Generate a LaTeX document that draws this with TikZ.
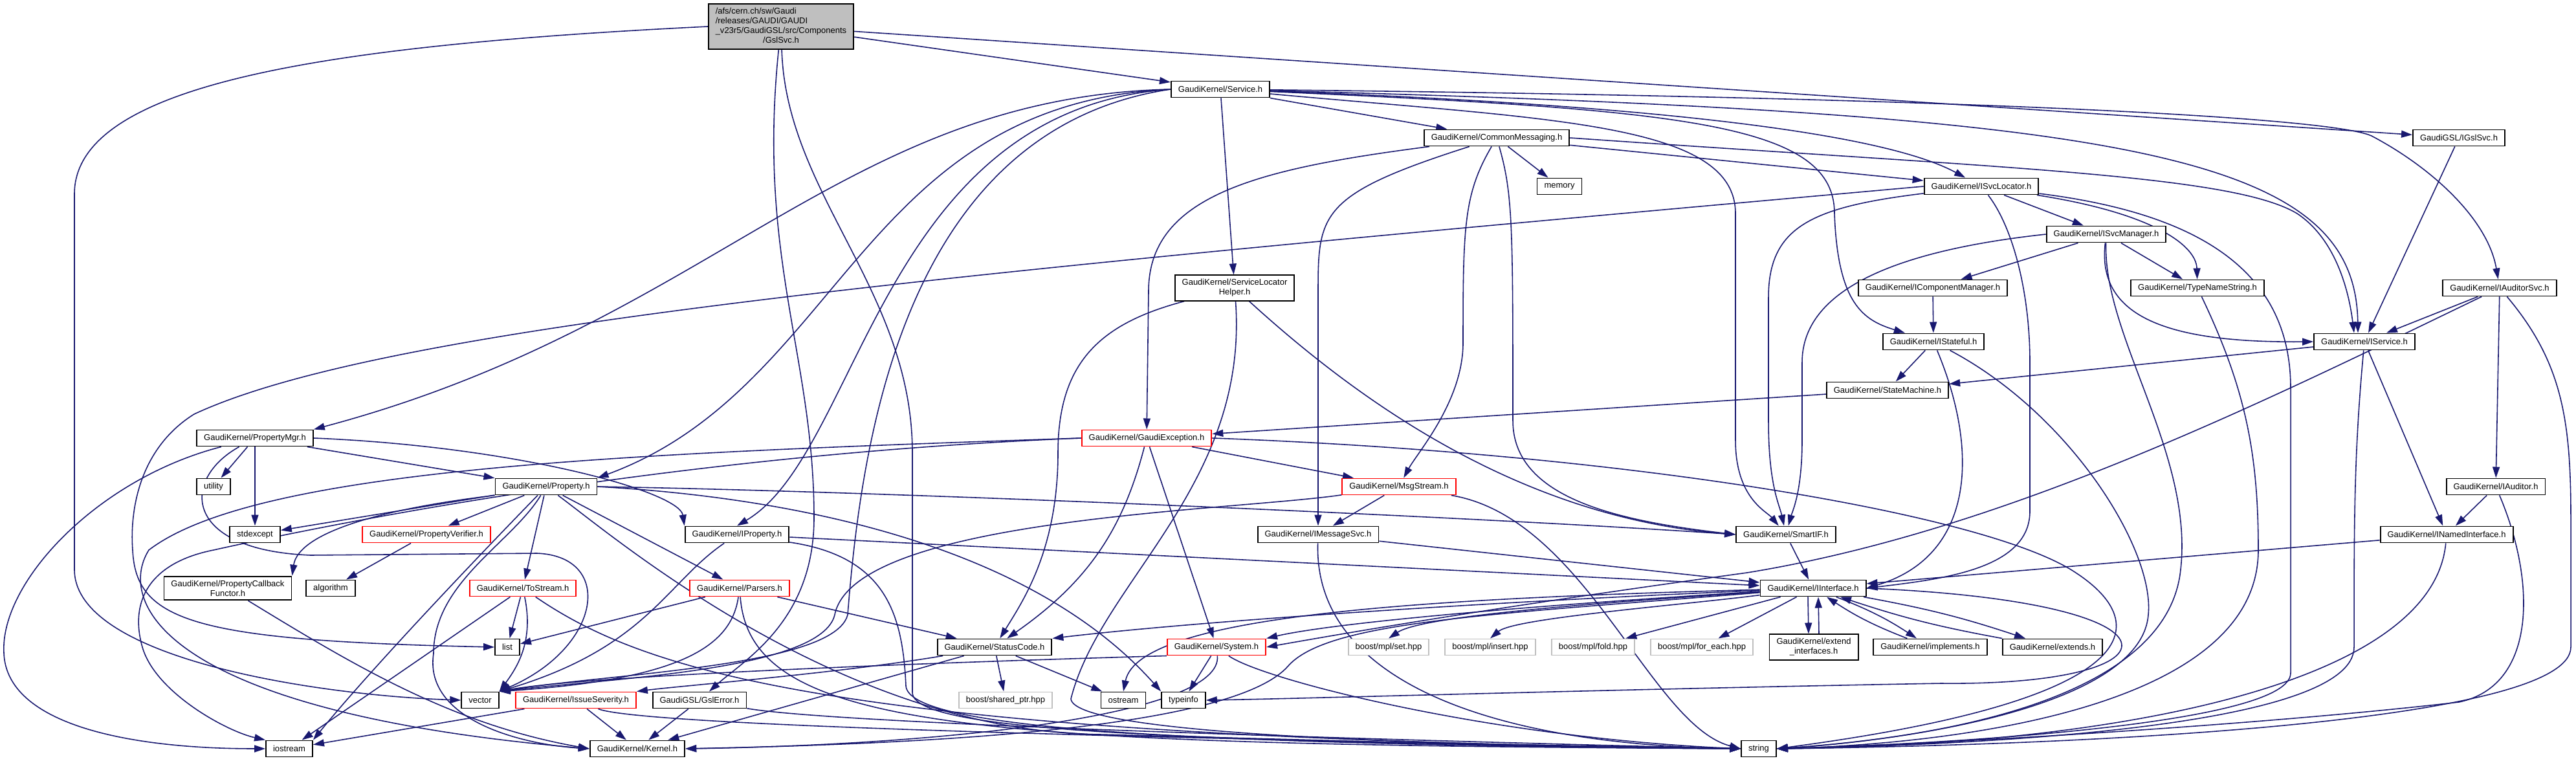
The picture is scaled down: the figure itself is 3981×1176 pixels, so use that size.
\documentclass[tikz,border=0pt]{standalone}
\usepackage{fontspec}
\setmainfont{Liberation Sans}
\usepackage{tikz}
\usetikzlibrary{arrows.meta,backgrounds}
\definecolor{edgeblue}{HTML}{191970}
\definecolor{truncred}{HTML}{FF0000}
\definecolor{undocgray}{HTML}{BFBFBF}

\begin{document}
\begin{tikzpicture}[
  x=0.01cm, y=0.01cm,
  hdr/.style={draw=black, line width=0.55pt, fill=white,
              font=\fontsize{3.7}{4.3}\selectfont,
              inner xsep=0.11cm, inner ysep=0.06cm, minimum height=0.25cm,
              align=center},
  trunc/.style={hdr, draw=truncred},
  undoc/.style={hdr, draw=undocgray},
  root/.style={draw=black, line width=0.55pt, fill=undocgray,
              font=\fontsize{3.7}{4.3}\selectfont,
              inner xsep=0.11cm, inner ysep=0.05cm},
  arr/.style={-{Triangle[length=0.17cm, width=0.11cm]}, line width=0.45pt, color=edgeblue}
]
\useasboundingbox (0,0) rectangle (3981,-1176);

\node[root] (gslsvc) at (1207,-41) {\begin{tabular}{@{}l@{}}/afs/cern.ch/sw/Gaudi\\/releases/GAUDI/GAUDI\\\_v23r5/GaudiGSL/src/Components\\\multicolumn{1}{@{}c@{}}{/GslSvc.h}\end{tabular}};
\node[hdr] (service)   at (1886,-138) {GaudiKernel/Service.h};
\node[hdr] (commsg)    at (2313,-213) {GaudiKernel/CommonMessaging.h};
\node[hdr] (igslsvc)   at (3800,-213) {GaudiGSL/IGslSvc.h};
\node[hdr] (memory)    at (2410,-288) {memory};
\node[hdr] (svcloc)    at (3062,-288) {GaudiKernel/ISvcLocator.h};
\node[hdr] (svcmgr)    at (3255,-362) {GaudiKernel/ISvcManager.h};
\node[hdr] (slhelper)  at (1908,-445) {GaudiKernel/ServiceLocator\\Helper.h};
\node[hdr] (compmgr)   at (2987,-445) {GaudiKernel/IComponentManager.h};
\node[hdr] (typename)  at (3396,-445) {GaudiKernel/TypeNameString.h};
\node[hdr] (auditsvc)  at (3863,-445) {GaudiKernel/IAuditorSvc.h};
\node[hdr] (stateful)  at (2988,-528) {GaudiKernel/IStateful.h};
\node[hdr] (iservice)  at (3654,-528) {GaudiKernel/IService.h};
\node[hdr] (statemach) at (2917,-603) {GaudiKernel/StateMachine.h};
\node[hdr] (propmgr)   at (394,-677)  {GaudiKernel/PropertyMgr.h};
\node[trunc] (gexcept) at (1772,-677) {GaudiKernel/GaudiException.h};
\node[hdr] (utility)   at (330,-752)  {utility};
\node[hdr] (property)  at (844,-752)  {GaudiKernel/Property.h};
\node[trunc] (msgstream) at (2162,-752) {GaudiKernel/MsgStream.h};
\node[hdr] (iauditor)  at (3857,-752) {GaudiKernel/IAuditor.h};
\node[hdr] (stdexcept) at (394,-826)  {stdexcept};
\node[trunc] (propverif) at (659,-826) {GaudiKernel/PropertyVerifier.h};
\node[hdr] (iproperty) at (1139,-826) {GaudiKernel/IProperty.h};
\node[hdr] (imsgsvc)   at (2037,-826) {GaudiKernel/IMessageSvc.h};
\node[hdr] (smartif)   at (2760,-826) {GaudiKernel/SmartIF.h};
\node[hdr] (inamed)    at (3781,-826) {GaudiKernel/INamedInterface.h};
\node[hdr] (propcb)    at (352,-909)  {GaudiKernel/PropertyCallback\\Functor.h};
\node[hdr] (algorithm) at (511,-909)  {algorithm};
\node[trunc] (tostream) at (808,-909) {GaudiKernel/ToStream.h};
\node[trunc] (parsers) at (1143,-909) {GaudiKernel/Parsers.h};
\node[hdr] (iiface)    at (2802,-909) {GaudiKernel/IInterface.h};
\node[hdr] (list)      at (784,-1000) {list};
\node[hdr] (statcode)  at (1537,-1000) {GaudiKernel/StatusCode.h};
\node[trunc] (system)  at (1880,-1000) {GaudiKernel/System.h};
\node[undoc] (mplset)  at (2146,-1000) {boost/mpl/set.hpp};
\node[undoc] (mplinsert) at (2303,-1000) {boost/mpl/insert.hpp};
\node[undoc] (mplfold) at (2462,-1000) {boost/mpl/fold.hpp};
\node[undoc] (mplforeach) at (2630,-1000) {boost/mpl/for\_each.hpp};
\node[hdr] (extiface)  at (2803,-1000) {GaudiKernel/extend\\\_interfaces.h};
\node[hdr] (implements) at (2983,-1000) {GaudiKernel/implements.h};
\node[hdr] (extends)   at (3172,-1000) {GaudiKernel/extends.h};
\node[hdr] (vector)    at (742,-1082) {vector};
\node[trunc] (severity) at (890,-1082) {GaudiKernel/IssueSeverity.h};
\node[hdr] (gslerror)  at (1081,-1082) {GaudiGSL/GslError.h};
\node[undoc] (sharedptr) at (1554,-1082) {boost/shared\_ptr.hpp};
\node[hdr] (ostream)   at (1736,-1082) {ostream};
\node[hdr] (typeinfo)  at (1829,-1082) {typeinfo};
\node[hdr] (iostream)  at (447,-1157) {iostream};
\node[hdr] (kernel)    at (985,-1157) {GaudiKernel/Kernel.h};
\node[hdr] (string)    at (2718,-1157) {string};

\begin{scope}[on background layer]
\draw[arr] (gslsvc) -- (service);
\draw[arr] (gslsvc) -- (igslsvc);
\draw[arr] (gslsvc) .. controls (1170,-400) and (1258,-550) .. (1258,-800) .. controls (1258,-960) and (1150,-1020) .. (gslerror);
\draw[arr] (gslsvc) .. controls (1215,-300) and (1410,-450) .. (1410,-700) -- (1410,-1070) .. controls (1410,-1130) and (1800,-1145) .. (string.west);
\draw[arr] (gslsvc.west) .. controls (500,-70) and (115,-130) .. (115,-300) -- (115,-880) .. controls (115,-1020) and (500,-1075) .. (vector.west);

\draw[arr] (service) -- (commsg);
\draw[arr] (service) -- (slhelper);
\draw[arr] (service) .. controls (2500,-160) and (2900,-200) .. (svcloc);
\draw[arr] (service) .. controls (2400,-185) and (2682,-190) .. (2682,-330) -- (2682,-680) .. controls (2682,-770) and (2730,-790) .. (smartif);
\draw[arr] (service) .. controls (2600,-170) and (2835,-190) .. (2835,-330) .. controls (2840,-470) and (2880,-495) .. (stateful);
\draw[arr] (service) .. controls (3300,-175) and (3640,-240) .. ([xshift=-0.1cm]iservice.north);
\draw[arr] (service) .. controls (3000,-150) and (3600,-180) .. (3665,-210) .. controls (3760,-260) and (3845,-340) .. (auditsvc);
\draw[arr] (service.west) .. controls (1300,-150) and (1100,-500) .. (propmgr.north east);
\draw[arr] (service.west) .. controls (1330,-160) and (1300,-600) .. (property.north east);
\draw[arr] (service.west) .. controls (1360,-170) and (1330,-700) .. (iproperty.north);
\draw[arr] (service.west) .. controls (1390,-200) and (1330,-700) .. (1310,-950) .. controls (1290,-1030) and (950,-1040) .. (vector.north east);

\draw[arr] (commsg) -- (memory);
\draw[arr] (commsg) -- (svcloc);
\draw[arr] (commsg.east) .. controls (3100,-260) and (3450,-270) .. (3550,-330) .. controls (3610,-370) and (3630,-450) .. ([xshift=-0.16cm]iservice.north);
\draw[arr] (commsg) .. controls (1950,-260) and (1775,-300) .. (1775,-450) -- (gexcept);
\draw[arr] (commsg) .. controls (2040,-300) and (2037,-330) .. (2037,-450) -- (imsgsvc);
\draw[arr] (commsg) .. controls (2262,-300) and (2261,-350) .. (2261,-530) .. controls (2261,-620) and (2190,-700) .. (msgstream);
\draw[arr] (commsg) .. controls (2338,-300) and (2338,-350) .. (2338,-650) .. controls (2338,-770) and (2500,-805) .. (smartif.west);

\draw[arr] (svcloc) -- (svcmgr);
\draw[arr] (svcloc) .. controls (3330,-330) and (3394,-380) .. (typename);
\draw[arr] (svcloc.west) .. controls (1500,-420) and (600,-500) .. (300,-640) .. controls (220,-690) and (200,-780) .. (205,-850) .. controls (210,-960) and (300,-990) .. (list.west);
\draw[arr] (svcloc) .. controls (3110,-350) and (3137,-450) .. (3137,-560) -- (3137,-790) .. controls (3137,-880) and (3000,-895) .. (iiface.east);
\draw[arr] (svcloc) .. controls (2800,-320) and (2733,-350) .. (2733,-460) -- (2733,-650) .. controls (2733,-750) and (2750,-780) .. (smartif);
\draw[arr] (svcloc) .. controls (3400,-330) and (3540,-420) .. (3540,-600) -- (3540,-1040) .. controls (3540,-1120) and (3000,-1150) .. (string.east);

\draw[arr] (svcmgr) -- (compmgr);
\draw[arr] (svcmgr) -- (typename);
\draw[arr] (svcmgr) .. controls (3240,-490) and (3350,-530) .. (iservice.west);
\draw[arr] (svcmgr) .. controls (3250,-520) and (3390,-700) .. (3370,-880) .. controls (3350,-1080) and (3000,-1140) .. (string.east);
\draw[arr] (svcmgr.west) .. controls (2950,-385) and (2785,-440) .. (2785,-560) -- (2785,-680) .. controls (2785,-760) and (2770,-790) .. (smartif);

\draw[arr] (compmgr) -- (stateful);
\draw[arr] (typename) .. controls (3470,-600) and (3490,-700) .. (3490,-850) .. controls (3490,-1100) and (3000,-1150) .. (string.east);

\draw[arr] (auditsvc) -- (iservice);
\draw[arr] (auditsvc) -- (iauditor);
\draw[arr] (auditsvc) .. controls (3960,-560) and (3973,-650) .. (3973,-800) -- (3973,-1000) .. controls (3973,-1110) and (3300,-1150) .. (string.east);
\draw[arr] (auditsvc) .. controls (3500,-620) and (3100,-820) .. (2700,-885) .. controls (2300,-940) and (2100,-975) .. (system.east);

\draw[arr] (igslsvc) -- ([xshift=0.06cm]iservice.north);

\draw[arr] (iservice) -- (statemach);
\draw[arr] (iservice) -- (inamed);
\draw[arr] (iservice) .. controls (3638,-700) and (3638,-800) .. (3638,-1000) .. controls (3638,-1120) and (3100,-1150) .. (string.east);

\draw[arr] (stateful) -- (statemach);
\draw[arr] (stateful) .. controls (3060,-700) and (3050,-860) .. (iiface.east);
\draw[arr] (stateful) .. controls (3200,-640) and (3330,-850) .. (3320,-950) .. controls (3310,-1080) and (3000,-1140) .. (string.east);

\draw[arr] (statemach) -- (gexcept);

\draw[arr] (slhelper) .. controls (1700,-500) and (1635,-560) .. (1635,-700) .. controls (1635,-850) and (1580,-930) .. (statcode);
\draw[arr] (slhelper) .. controls (1930,-750) and (1700,-900) .. (1655,-1080) .. controls (1660,-1130) and (2100,-1150) .. (string.west);
\draw[arr] (slhelper) .. controls (2100,-620) and (2350,-800) .. (smartif.west);

\draw[arr] (gexcept) -- (msgstream);
\draw[arr] (gexcept) .. controls (1735,-820) and (1680,-900) .. (statcode);
\draw[arr] (gexcept) -- (system);
\draw[arr] (gexcept.east) .. controls (2500,-700) and (3050,-790) .. (3200,-880) .. controls (3330,-960) and (3330,-1080) .. (string.east);
\draw[arr] (gexcept.west) .. controls (1000,-700) and (400,-720) .. (230,-850) .. controls (180,-930) and (250,-1100) .. (kernel.west);
\draw[arr] (gexcept.west) .. controls (1100,-700) and (600,-790) .. (330,-850) .. controls (230,-870) and (200,-930) .. (220,-1000) .. controls (240,-1070) and (350,-1130) .. (iostream.north west);

\draw[arr] (msgstream) -- (imsgsvc);
\draw[arr] (msgstream) .. controls (1900,-790) and (1320,-800) .. (1290,-950) .. controls (1270,-1035) and (950,-1048) .. (vector.north east);
\draw[arr] (msgstream) .. controls (2450,-800) and (2550,-1120) .. (string.west);

\draw[arr] (propmgr) -- (utility);
\draw[arr] (propmgr) -- (stdexcept);
\draw[arr] (propmgr) -- (property);
\draw[arr] (propmgr.east) .. controls (800,-690) and (1050,-760) .. (iproperty.north west);
\draw[arr] (propmgr) .. controls (150,-740) and (0,-900) .. (6,-1009) .. controls (10,-1120) and (200,-1157) .. (iostream.west);
\draw[arr] (propmgr) .. controls (280,-740) and (280,-850) .. (480,-858) -- (830,-855) .. controls (950,-860) and (930,-1000) .. (vector.north east);

\draw[arr] (property) -- (stdexcept);
\draw[arr] (property.south west) .. controls (560,-790) and (460,-830) .. (propcb.north east);
\draw[arr] (property) -- (propverif);
\draw[arr] (property) -- (tostream);
\draw[arr] (property) -- (parsers);
\draw[arr] (property) .. controls (790,-840) and (670,-900) .. (670,-1010) .. controls (655,-1110) and (800,-1150) .. (kernel.west);
\draw[arr] (property.east) .. controls (1250,-770) and (1600,-850) .. (typeinfo.north west);
\draw[arr] (property.east) .. controls (1400,-760) and (2300,-800) .. (smartif.west);
\draw[arr] (property) .. controls (950,-830) and (1300,-1130) .. (1700,-1135) .. controls (2100,-1145) and (2400,-1155) .. (string.west);
\draw[arr] (property) .. controls (700,-900) and (560,-1050) .. (iostream.north east);

\draw[arr] (propverif) -- (algorithm);
\draw[arr] (propcb) .. controls (550,-1030) and (700,-1120) .. (kernel.west);

\draw[arr] (tostream) -- (list);
\draw[arr] (tostream) .. controls (825,-990) and (800,-1030) .. (vector.north east);
\draw[arr] (tostream) -- (iostream);
\draw[arr] (tostream) .. controls (1000,-1040) and (1300,-1140) .. (string.west);

\draw[arr] (parsers) -- (list);
\draw[arr] (parsers) .. controls (1130,-1000) and (1050,-1050) .. (vector.north east);
\draw[arr] (parsers) -- (statcode);
\draw[arr] (parsers) .. controls (1160,-1130) and (1500,-1150) .. (string.west);

\draw[arr] (iproperty) -- (iiface);
\draw[arr] (iproperty) .. controls (1370,-860) and (1395,-950) .. (1400,-1060) .. controls (1405,-1125) and (1800,-1150) .. (string.west);
\draw[arr] (iproperty) .. controls (1030,-900) and (1000,-1000) .. (vector.north east);

\draw[arr] (imsgsvc) -- (iiface);
\draw[arr] (imsgsvc) .. controls (2030,-1050) and (2300,-1150) .. (string.west);
\draw[arr] (smartif) -- (iiface);
\draw[arr] (inamed) -- (iiface);
\draw[arr] (inamed) .. controls (3760,-1050) and (3300,-1150) .. (string.east);
\draw[arr] (iauditor) -- (inamed);
\draw[arr] (iauditor) .. controls (3920,-900) and (3920,-1060) .. (3800,-1085) .. controls (3500,-1120) and (3000,-1150) .. (string.east);

\draw[arr] (iiface) .. controls (2500,-930) and (2200,-950) .. (mplset.north);
\draw[arr] (iiface) .. controls (2600,-935) and (2340,-955) .. (mplinsert.north);
\draw[arr] (iiface) -- (mplfold);
\draw[arr] (iiface) -- (mplforeach);
\draw[arr] ([xshift=-0.08cm]iiface.south) -- ([xshift=-0.08cm]extiface.north);
\draw[arr] ([xshift=0.08cm]extiface.north) -- ([xshift=0.08cm]iiface.south);
\draw[arr] (iiface) to[bend left=6] (implements);
\draw[arr] (implements) to[bend left=6] (iiface);
\draw[arr] (iiface) to[bend left=4] (extends);
\draw[arr] (extends) to[bend left=4] (iiface);
\draw[arr] (iiface) .. controls (2300,-930) and (1850,-960) .. (statcode.north east);
\draw[arr] (iiface) .. controls (2300,-940) and (2050,-965) .. (system.north east);
\draw[arr] (iiface) .. controls (2200,-925) and (1760,-950) .. (ostream.north);
\draw[arr] (iiface.east) .. controls (3400,-930) and (3380,-1060) .. (3000,-1056) .. controls (2500,-1065) and (2000,-1080) .. (typeinfo.east);
\draw[arr] (iiface) .. controls (2300,-950) and (2050,-960) .. (1990,-1030) .. controls (1900,-1130) and (1400,-1150) .. (kernel.east);

\draw[arr] (system) -- (typeinfo);
\draw[arr] (system) .. controls (1890,-1100) and (1500,-1150) .. (kernel.east);
\draw[arr] (system) .. controls (1950,-1050) and (2300,-1140) .. (string.west);
\draw[arr] (system.south west) .. controls (1400,-1025) and (900,-1045) .. (vector.north east);

\draw[arr] (statcode) .. controls (1300,-1040) and (1050,-1060) .. (severity.north east);
\draw[arr] (statcode) -- (kernel);
\draw[arr] (statcode) -- (sharedptr);
\draw[arr] (statcode) -- (ostream);

\draw[arr] (severity) -- (iostream);
\draw[arr] (severity) -- (kernel);
\draw[arr] (severity) .. controls (1000,-1125) and (2000,-1145) .. (string.west);
\draw[arr] (gslerror) -- (kernel);
\draw[arr] (gslerror) .. controls (1300,-1120) and (2200,-1145) .. (string.west);
\end{scope}
\end{tikzpicture}
\end{document}
